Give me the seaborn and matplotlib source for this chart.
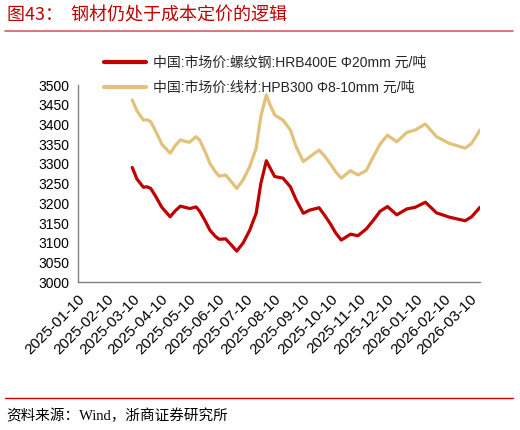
import matplotlib
matplotlib.use("Agg")
import matplotlib.pyplot as plt
import seaborn as sns
import pandas as pd

dates = ["2025-03-10", "2025-03-15", "2025-03-22", "2025-03-26", "2025-03-30",
         "2025-04-05", "2025-04-11", "2025-04-20", "2025-04-25", "2025-05-01",
         "2025-05-06", "2025-05-11", "2025-05-18", "2025-05-22", "2025-05-28",
         "2025-06-02", "2025-06-08", "2025-06-12", "2025-06-19", "2025-06-25",
         "2025-07-01", "2025-07-08", "2025-07-15", "2025-07-22", "2025-07-27",
         "2025-08-02", "2025-08-06", "2025-08-11", "2025-08-20", "2025-08-28",
         "2025-09-03", "2025-09-11", "2025-09-18", "2025-09-28", "2025-10-04",
         "2025-10-10", "2025-10-16", "2025-10-22", "2025-11-01", "2025-11-09",
         "2025-11-18", "2025-11-26", "2025-12-03", "2025-12-11", "2025-12-21",
         "2026-01-01", "2026-01-10", "2026-01-21", "2026-02-02", "2026-02-16",
         "2026-03-05", "2026-03-12", "2026-03-21"]

rebar = [3291, 3262, 3241, 3242, 3238, 3215, 3190, 3166, 3180, 3193,
         3190, 3187, 3191, 3180, 3155, 3132, 3116, 3109, 3110, 3095,
         3079, 3100, 3132, 3175, 3250, 3308, 3290, 3268, 3264, 3242,
         3210, 3175, 3183, 3189, 3170, 3149, 3125, 3107, 3122, 3118,
         3135, 3158, 3180, 3192, 3171, 3186, 3190, 3203, 3176, 3165,
         3156, 3166, 3190]

wire = [3462, 3435, 3411, 3412, 3407, 3380, 3350, 3327, 3345, 3361,
        3357, 3355, 3369, 3360, 3330, 3301, 3280, 3269, 3272, 3255,
        3238, 3260, 3293, 3340, 3420, 3475, 3450, 3424, 3411, 3386,
        3345, 3306, 3318, 3335, 3320, 3301, 3280, 3264, 3283, 3272,
        3283, 3320, 3350, 3373, 3356, 3380, 3386, 3401, 3369, 3352,
        3340, 3352, 3386]

series_names = ["中国:市场价:螺纹钢:HRB400E Φ20mm 元/吨",
                "中国:市场价:线材:HPB300 Φ8-10mm 元/吨"]

tick_labels = ["2025-01-10", "2025-02-10", "2025-03-10", "2025-04-10", "2025-05-10",
               "2025-06-10", "2025-07-10", "2025-08-10", "2025-09-10", "2025-10-10",
               "2025-11-10", "2025-12-10", "2026-01-10", "2026-02-10", "2026-03-10"]
yticks = [3000, 3050, 3100, 3150, 3200, 3250, 3300, 3350, 3400, 3450, 3500]

title = "图43：  钢材仍处于成本定价的逻辑"
source = "资料来源：Wind，浙商证券研究所"

sns.set_theme(style="white")
plt.rcParams['font.family'] = ['Liberation Sans', 'Noto Sans CJK SC', 'DejaVu Sans']

df = pd.DataFrame({
    "date": pd.to_datetime(dates * 2),
    "value": rebar + wire,
    "series": [series_names[0]] * len(dates) + [series_names[1]] * len(dates),
})

fig = plt.figure(figsize=(5.2, 4.3), dpi=100)
ax = fig.add_axes([0.1494, 0.3435, 0.923 - 0.1494, 0.8023 - 0.3435])

palette = {series_names[0]: "#C00000", series_names[1]: "#E2C27A"}
sns.lineplot(data=df, x="date", y="value", hue="series", palette=palette,
             hue_order=series_names, linewidth=2.3, ax=ax, legend=True)

ax.set_xlim(pd.Timestamp("2025-01-10"), pd.Timestamp("2026-03-21"))
ax.set_ylim(3000, 3500)
ax.set_yticks(yticks)
ax.set_yticklabels([str(v) for v in yticks], fontsize=10)
ax.set_xticks(pd.to_datetime(tick_labels))
ax.set_xticklabels(tick_labels, rotation=45, ha="right", rotation_mode="anchor", fontsize=11)
ax.set_xlabel("")
ax.set_ylabel("")
for s in ["top", "right"]:
    ax.spines[s].set_visible(False)
for s in ["left", "bottom"]:
    ax.spines[s].set_color("#808080")
    ax.spines[s].set_linewidth(1.0)
ax.tick_params(axis="both", which="major", length=4, width=1, color="#808080",
               direction="out", pad=2, colors="black")
ax.tick_params(axis="x", pad=3)
ax.grid(False)

leg = ax.legend(loc="upper left", bbox_to_anchor=(0.052, 1.175), frameon=False,
                fontsize=10, handlelength=3.0, handletextpad=0.5, labelspacing=0.75,
                borderaxespad=0)
for line in leg.get_lines():
    line.set_linewidth(3)

fig.text(0.013, 0.965, title, fontsize=13, color="#C00000", va="center", ha="left",
         family=['Noto Sans CJK SC', 'DejaVu Sans'])
fig.add_artist(plt.Line2D([0.01, 0.987], [0.928, 0.928], color="#D06060", linewidth=1.2))
fig.add_artist(plt.Line2D([0.01, 0.987], [0.074, 0.074], color="#C00000", linewidth=1.0))
fig.text(0.013, 0.032, source, fontsize=10.5, color="black", va="center", ha="left",
         family=['Liberation Serif', 'Noto Sans CJK SC', 'DejaVu Sans'])

fig.savefig("out.png", dpi=100)
